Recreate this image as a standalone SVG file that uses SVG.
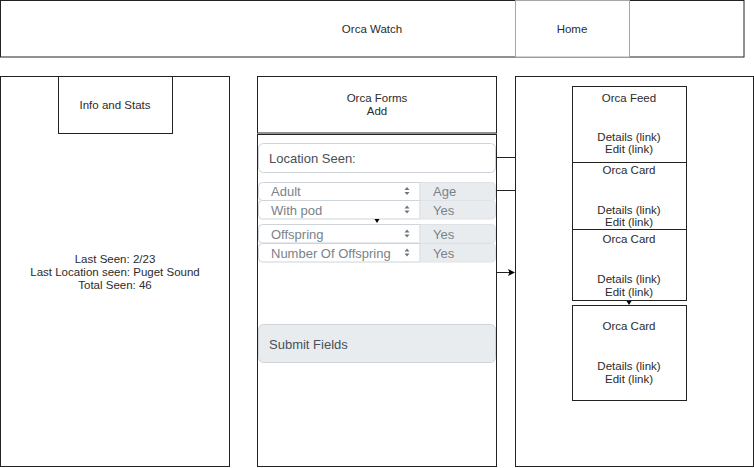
<svg xmlns="http://www.w3.org/2000/svg" width="754" height="468" viewBox="0 0 754 468">
<defs>
<marker id="ah" markerWidth="8" markerHeight="8" refX="6" refY="3.5" orient="auto" markerUnits="userSpaceOnUse">
<path d="M0,0 L7,3.5 L0,7 L1.5,3.5 Z" fill="#000"/>
</marker>
</defs>
<style>
.box{fill:#fff;stroke:#222;stroke-width:1}
.gbox{fill:#fff;stroke:#a6a6a6;stroke-width:1}
.t{font-family:"Liberation Sans",Arial,sans-serif;font-size:11.5px;fill:#2b2b2b;text-anchor:middle}
.f{font-family:"Liberation Sans",Arial,sans-serif;font-size:13px;fill:#495057}
.fs{font-family:"Liberation Sans",Arial,sans-serif;font-size:13px;fill:#7a8288}
.field{fill:#fff;stroke:#ced4da;stroke-width:1}
.addon{fill:#e9ecef;stroke:#dee2e6;stroke-width:1}
.btn{fill:#e9ecef;stroke:#ced4da;stroke-width:1}
.ico{fill:#6c757d}
.cn{fill:none;stroke:#222;stroke-width:1}
</style>
<rect width="754" height="468" fill="#fff"/>

<g id="header">
<rect class="box" x="0.5" y="0.5" width="743.5" height="56.5"/>
<text class="t" x="372" y="33">Orca Watch</text>
</g>
<g id="home">
<rect class="gbox" x="515.5" y="0.5" width="114" height="56.5"/>
<text class="t" x="572" y="33">Home</text>
</g>

<g id="left-panel">
<rect class="box" x="0.5" y="76.5" width="229" height="390"/>
<text class="t" x="115" y="263">Last Seen: 2/23</text>
<text class="t" x="115" y="276">Last Location seen: Puget Sound</text>
<text class="t" x="115" y="289">Total Seen: 46</text>
</g>
<g id="info-stats">
<rect class="box" x="58.5" y="76.5" width="114" height="57"/>
<text class="t" x="115" y="109">Info and Stats</text>
</g>

<g id="forms-title">
<rect class="box" x="257.5" y="76.5" width="239" height="56.5"/>
<text class="t" x="377" y="102">Orca Forms</text>
<text class="t" x="377" y="115">Add</text>
</g>
<g id="forms-body">
<rect class="box" x="257.5" y="134.5" width="239" height="332"/>
</g>

<g id="location-seen">
<rect class="field" x="258.5" y="143.5" width="237" height="29" rx="5"/>
<text class="f" x="269" y="162.5">Location Seen:</text>
</g>

<g id="row-adult">
<path class="field" d="M420,182.5 H262.5 a4,4 0 0 0 -4,4 V196.5 a4,4 0 0 0 4,4 H420 Z"/>
<path class="addon" d="M420,182.5 H491.5 a4,4 0 0 1 4,4 V196.5 a4,4 0 0 1 -4,4 H420 Z"/>
<text class="fs" x="271" y="196">Adult</text>
<path class="ico" d="M404.5,190 L407,187 L409.5,190 Z M404.5,192 L407,195 L409.5,192 Z"/>
<text class="fs" x="433" y="196">Age</text>
</g>
<g id="row-withpod">
<path class="field" d="M420,200.5 H262.5 a4,4 0 0 0 -4,4 V215 a4,4 0 0 0 4,4 H420 Z"/>
<path class="addon" d="M420,200.5 H491.5 a4,4 0 0 1 4,4 V215 a4,4 0 0 1 -4,4 H420 Z"/>
<text class="fs" x="271" y="214.5">With pod</text>
<path class="ico" d="M404.5,208.5 L407,205.5 L409.5,208.5 Z M404.5,210.5 L407,213.5 L409.5,210.5 Z"/>
<text class="fs" x="433" y="214.5">Yes</text>
</g>
<g id="row-offspring">
<path class="field" d="M420,224.5 H262.5 a4,4 0 0 0 -4,4 V239 a4,4 0 0 0 4,4 H420 Z"/>
<path class="addon" d="M420,224.5 H491.5 a4,4 0 0 1 4,4 V239 a4,4 0 0 1 -4,4 H420 Z"/>
<text class="fs" x="271" y="238.5">Offspring</text>
<path class="ico" d="M404.5,232.5 L407,229.5 L409.5,232.5 Z M404.5,234.5 L407,237.5 L409.5,234.5 Z"/>
<text class="fs" x="433" y="238.5">Yes</text>
</g>
<g id="row-number-offspring">
<path class="field" d="M420,243.5 H262.5 a4,4 0 0 0 -4,4 V258 a4,4 0 0 0 4,4 H420 Z"/>
<path class="addon" d="M420,243.5 H491.5 a4,4 0 0 1 4,4 V258 a4,4 0 0 1 -4,4 H420 Z"/>
<text class="fs" x="271" y="257.5">Number Of Offspring</text>
<path class="ico" d="M404.5,251.5 L407,248.5 L409.5,251.5 Z M404.5,253.5 L407,256.5 L409.5,253.5 Z"/>
<text class="fs" x="433" y="257.5">Yes</text>
</g>

<g id="submit">
<rect class="btn" x="258.5" y="324.5" width="237" height="38" rx="5"/>
<text class="f" x="269" y="348.5">Submit Fields</text>
</g>

<g id="right-panel">
<rect class="box" x="515.5" y="76.5" width="238" height="390"/>
</g>
<g id="orca-feed">
<rect class="box" x="572.5" y="86.5" width="114" height="76"/>
<text class="t" x="629" y="102">Orca Feed</text>
<text class="t" x="629" y="141">Details (link)</text>
<text class="t" x="629" y="153">Edit (link)</text>
</g>
<g id="orca-card-1">
<rect class="box" x="572.5" y="162.5" width="114" height="67"/>
<text class="t" x="629" y="174">Orca Card</text>
<text class="t" x="629" y="214">Details (link)</text>
<text class="t" x="629" y="226">Edit (link)</text>
</g>
<g id="orca-card-2">
<rect class="box" x="572.5" y="229.5" width="114" height="71"/>
<text class="t" x="629" y="243">Orca Card</text>
<text class="t" x="629" y="283">Details (link)</text>
<text class="t" x="629" y="295.5">Edit (link)</text>
</g>
<g id="orca-card-3">
<rect class="box" x="572.5" y="305.5" width="114" height="95"/>
<text class="t" x="629" y="330">Orca Card</text>
<text class="t" x="629" y="370">Details (link)</text>
<text class="t" x="629" y="383">Edit (link)</text>
</g>

<g id="connectors">
<path class="cn" d="M496.5,157.5 H515"/>
<path class="cn" d="M496.5,190.5 H515"/>
<path class="cn" d="M496.5,272.5 H514" marker-end="url(#ah)"/>
<path d="M374.5,219 L379.5,219 L377,223 Z" fill="#000"/>
<path d="M626.5,301 L631.5,301 L629,305 Z" fill="#000"/>
</g>
</svg>
